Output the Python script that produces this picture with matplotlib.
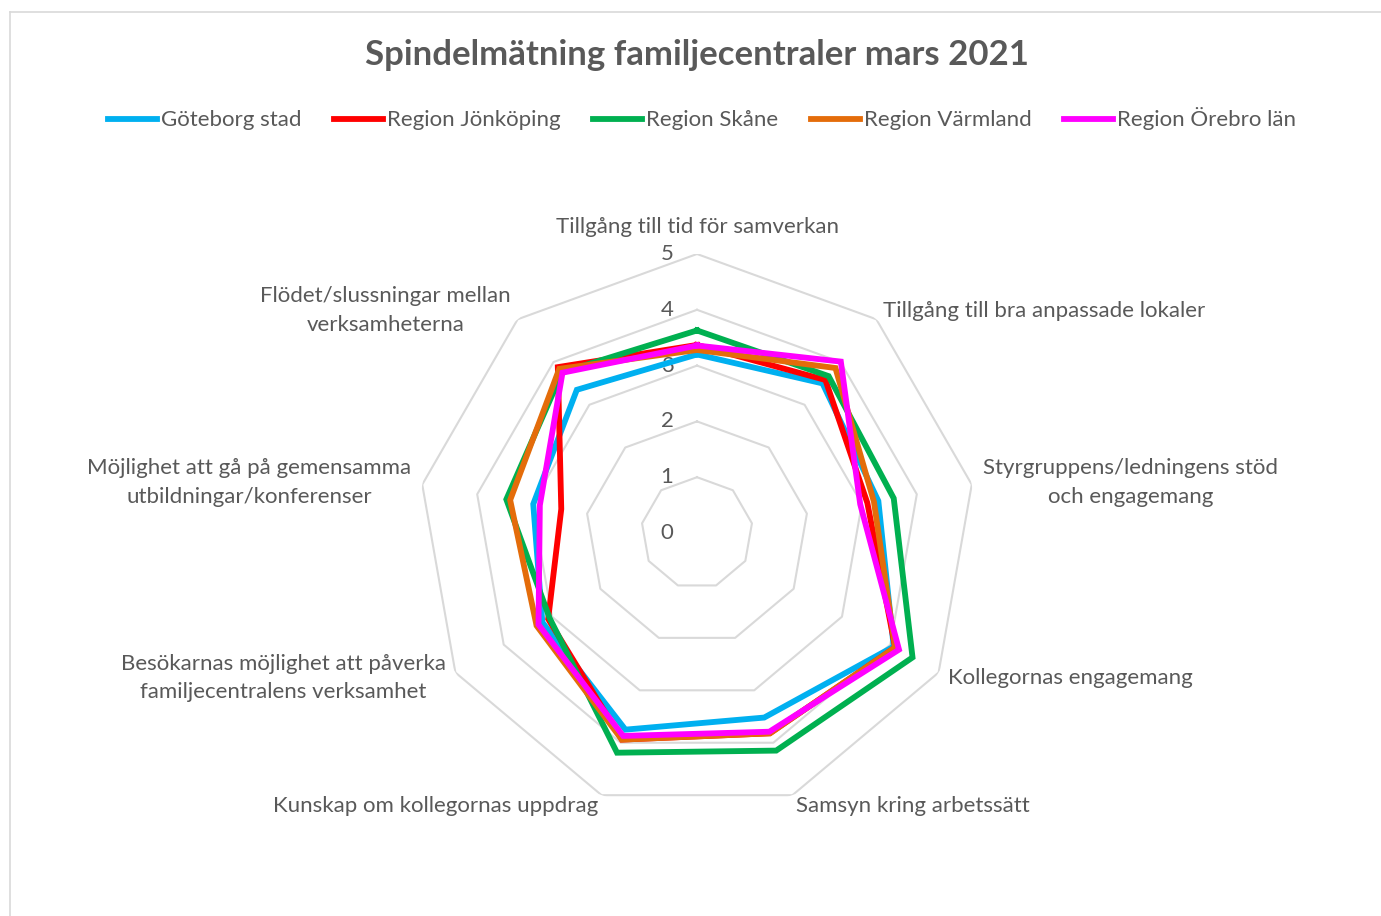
import numpy as np
import matplotlib.pyplot as plt
from matplotlib.lines import Line2D

plt.rcParams['font.family'] = ['Lato', 'DejaVu Sans']

TEXT_COLOUR = "#595959"
GRID_COLOUR = "#D9D9D9"

TITLE = "Spindelmätning familjecentraler mars 2021"

CATEGORIES = [
    "Tillgång till tid för samverkan",
    "Tillgång till bra anpassade lokaler",
    "Styrgruppens/ledningens stöd\noch engagemang",
    "Kollegornas engagemang",
    "Samsyn kring arbetssätt",
    "Kunskap om kollegornas uppdrag",
    "Besökarnas möjlighet att påverka\nfamiljecentralens verksamhet",
    "Möjlighet att gå på gemensamma\nutbildningar/konferenser",
    "Flödet/slussningar mellan\nverksamheterna",
]

SERIES_NAMES = ["Göteborg stad", "Region Jönköping", "Region Skåne", "Region Värmland", "Region Örebro län"]
SERIES_COLOURS = ["#00B0F0", "#FF0000", "#00B050", "#E46C0A", "#FF00FF"]

goteborg  = [3.20, 3.50, 3.30, 4.07, 3.52, 3.75, 3.20, 2.98, 3.35]
jonkoping = [3.37, 3.58, 3.10, 4.10, 3.82, 3.94, 3.08, 2.47, 3.88]
skane     = [3.63, 3.67, 3.58, 4.46, 4.15, 4.19, 3.05, 3.47, 3.76]
varmland  = [3.28, 3.86, 3.22, 4.10, 3.82, 3.94, 3.32, 3.40, 3.84]
orebro    = [3.36, 4.01, 2.97, 4.18, 3.79, 3.87, 3.28, 2.86, 3.75]

RING_VALUES = [0, 1, 2, 3, 4, 5]

W, H = 1381, 916
fig = plt.figure(figsize=(W / 100, H / 100), dpi=100)

# chart area border (cut off at right/bottom like the screenshot)
fig.add_artist(Line2D([10 / W, 1], [1 - 12 / H, 1 - 12 / H], color=GRID_COLOUR, lw=1.2, transform=fig.transFigure))
fig.add_artist(Line2D([10 / W, 10 / W], [0, 1 - 12 / H], color=GRID_COLOUR, lw=1.2, transform=fig.transFigure))

# Radar axes: center (697, 533) px, radius 279 px
cx, cy, rad = 697, 533, 279
ax = fig.add_axes([(cx - rad) / W, 1 - (cy + rad) / H, 2 * rad / W, 2 * rad / H], projection='polar')
ax.set_theta_offset(np.pi / 2)
ax.set_theta_direction(-1)
ax.set_ylim(0, 5)
ax.grid(False)
ax.spines['polar'].set_visible(False)
ax.set_xticks([])
ax.set_yticks([])
ax.patch.set_alpha(0)

n = len(CATEGORIES)
theta = np.linspace(0, 2 * np.pi, n, endpoint=False)
theta_closed = np.append(theta, theta[0])

# Grid rings (9-gons)
for v in RING_VALUES[1:]:
    ax.plot(theta_closed, [v] * (n + 1), color=GRID_COLOUR, lw=1.5, zorder=1)

# Ring labels
for v in RING_VALUES:
    ax.annotate(str(v), xy=(0, v), xytext=(-21.5, 0), textcoords='offset points',
                ha='center', va='center', fontsize=16, color=TEXT_COLOUR)

# Series
all_series = [goteborg, jonkoping, skane, varmland, orebro]
for name, vals, col in zip(SERIES_NAMES, all_series, SERIES_COLOURS):
    vals_closed = np.append(vals, vals[0])
    ax.plot(theta_closed, vals_closed, color=col, lw=4.2, label=name,
            solid_joinstyle='miter', zorder=3)

# Category labels
for k, (t, lab) in enumerate(zip(theta, CATEGORIES)):
    ang = np.pi / 2 - t  # screen angle
    c, s = np.cos(ang), np.sin(ang)
    if abs(c) < 0.1:
        ha = 'center'
    elif c > 0:
        ha = 'left'
    else:
        ha = 'right'
    pad = 8.0
    va = 'center'
    if k == 0:
        va = 'bottom'
        pad = 12.0
    ax.annotate(lab, xy=(t, 5), xytext=(pad * c, pad * s), textcoords='offset points',
                ha=ha, va=va, multialignment='center', fontsize=16, color=TEXT_COLOUR,
                linespacing=1.55, annotation_clip=False)

fig.text(cx / W, 1 - 55 / H, TITLE, ha='center', va='center', fontsize=25,
         fontweight='bold', color=TEXT_COLOUR)

handles, labels = ax.get_legend_handles_labels()
fig.legend(handles, labels, loc='center', bbox_to_anchor=(702 / W, 1 - 119 / H), ncol=5,
           frameon=False, fontsize=16, handlelength=2.2, handletextpad=0.2,
           columnspacing=1.45, labelcolor=TEXT_COLOUR)

fig.savefig("out.png", dpi=100)
